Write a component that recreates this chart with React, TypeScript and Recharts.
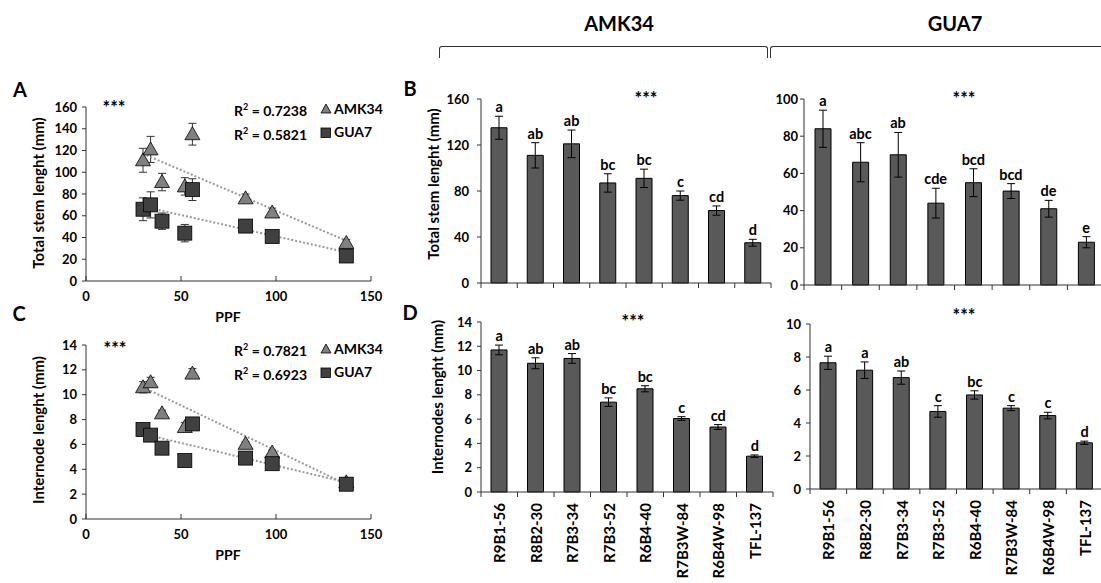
import React from "react";
import {
  ScatterChart,
  Scatter,
  ComposedChart,
  Bar,
  XAxis,
  YAxis,
  ErrorBar,
  ReferenceLine,
} from "recharts";

// genotypes and their PPF value
const genotypes = ["R9B1-56", "R8B2-30", "R7B3-34", "R7B3-52", "R6B4-40", "R7B3W-84", "R6B4W-98", "TFL-137"];
const ppf = [56, 30, 34, 52, 40, 84, 98, 137];

// total stem length (mm)
const stemAMK = [135, 111, 121, 87, 91, 76, 63, 35];
const stemAMKErr = [10, 11, 12, 8, 8, 4, 4, 3];
const stemAMKLetters = ["a", "ab", "ab", "bc", "bc", "c", "cd", "d"];
const stemGUA = [84, 66, 70, 44, 55, 50.5, 41, 23];
const stemGUAErr = [10, 10.5, 12, 8, 7.5, 4, 4.5, 3];
const stemGUALetters = ["a", "abc", "ab", "cde", "bcd", "bcd", "de", "e"];

// internode length (mm)
const interAMK = [11.7, 10.6, 11.0, 7.4, 8.5, 6.05, 5.35, 2.95];
const interAMKErr = [0.4, 0.45, 0.4, 0.35, 0.25, 0.15, 0.2, 0.1];
const interAMKLetters = ["a", "ab", "ab", "bc", "bc", "c", "cd", "d"];
const interGUA = [7.65, 7.2, 6.75, 4.7, 5.7, 4.9, 4.45, 2.8];
const interGUAErr = [0.4, 0.5, 0.4, 0.35, 0.25, 0.15, 0.2, 0.1];
const interGUALetters = ["a", "a", "ab", "c", "bc", "c", "c", "d"];

// trend line end points
const trendStemAMK = [{ x: 30, y: 117 }, { x: 137, y: 37 }];
const trendStemGUA = [{ x: 30, y: 68.5 }, { x: 137, y: 26.5 }];
const trendInterAMK = [{ x: 30, y: 10.6 }, { x: 137, y: 2.8 }];
const trendInterGUA = [{ x: 30, y: 6.85 }, { x: 137, y: 2.95 }];

const r2Stem = ["0.7238", "0.5821"];
const r2Inter = ["0.7821", "0.6923"];

const ppfTicks = [0, 50, 100, 150];
const stemScatterTicks = [0, 20, 40, 60, 80, 100, 120, 140, 160];
const interTicks14 = [0, 2, 4, 6, 8, 10, 12, 14];
const stemBarTicksAMK = [0, 40, 80, 120, 160];
const stemBarTicksGUA = [0, 20, 40, 60, 80, 100];
const interTicks10 = [0, 2, 4, 6, 8, 10];

const FONT = "Lato, 'Open Sans', sans-serif";
const tickStyle = { fontSize: 13, fontWeight: 700, fill: "#000", fontFamily: FONT };
const AXIS = "#333";

const TriangleShape = (p: any) => {
  const { cx, cy } = p;
  if (cx == null || cy == null) return null;
  return (
    <path
      d={`M${cx},${cy - 7.5} L${cx + 7.5},${cy + 5.5} L${cx - 7.5},${cy + 5.5} Z`}
      fill="#808080"
      stroke="#000"
      strokeWidth={0.8}
    />
  );
};

const SquareShape = (p: any) => {
  const { cx, cy } = p;
  if (cx == null || cy == null) return null;
  return <rect x={cx - 7} y={cy - 7} width={14} height={14} fill="#404040" stroke="#000" strokeWidth={0.8} />;
};

// small text placed by its centre
const Txt = ({ x, y, size = 13, children, rotate = false, weight = 700 }: any) => (
  <div
    style={{
      position: "absolute",
      left: x,
      top: y,
      transform: `translate(-50%, -50%)${rotate ? " rotate(-90deg)" : ""}`,
      fontSize: size,
      fontWeight: weight,
      whiteSpace: "nowrap",
      lineHeight: 1,
      color: "#000",
    }}
  >
    {children}
  </div>
);

function ScatterLegend({ x, y, r2 }: { x: number; y: number; r2: string[] }) {
  return (
    <div style={{ position: "absolute", left: x, top: y, fontSize: 14, fontWeight: 700, lineHeight: "20px" }}>
      <div style={{ display: "flex", alignItems: "center" }}>
        <span style={{ width: 86 }}>
          R<sup style={{ fontSize: 9 }}>2</sup> = {r2[0]}
        </span>
        <svg width={12} height={11} style={{ marginRight: 2 }}>
          <path d="M6,1 L11,10 L1,10 Z" fill="#808080" stroke="#000" strokeWidth={0.8} />
        </svg>
        <span>AMK34</span>
      </div>
      <div style={{ display: "flex", alignItems: "center" }}>
        <span style={{ width: 86 }}>
          R<sup style={{ fontSize: 9 }}>2</sup> = {r2[1]}
        </span>
        <svg width={12} height={11} style={{ marginRight: 2 }}>
          <rect x={1} y={1} width={9.5} height={9.5} fill="#404040" stroke="#000" strokeWidth={0.8} />
        </svg>
        <span>GUA7</span>
      </div>
    </div>
  );
}

function ScatterPanel({ top, marginTop, height, amk, amkErr, gua, guaErr, yMax, yTicks, trendA, trendG }: any) {
  const amkData = ppf.map((x, i) => ({ x, y: amk[i], err: amkErr[i] }));
  const guaData = ppf.map((x, i) => ({ x, y: gua[i], err: guaErr[i] }));
  return (
    <div style={{ position: "absolute", left: 0, top }}>
      <ScatterChart width={392} height={height} margin={{ top: marginTop, right: 21, bottom: 0, left: 0 }}>
        <XAxis
          type="number"
          dataKey="x"
          domain={[0, 150]}
          ticks={ppfTicks}
          height={32}
          tick={tickStyle}
          tickSize={-5}
          tickMargin={16}
          stroke={AXIS}
          interval={0}
        />
        <YAxis
          type="number"
          dataKey="y"
          domain={[0, yMax]}
          ticks={yTicks}
          width={86}
          tick={tickStyle}
          tickSize={4}
          tickMargin={5}
          stroke={AXIS}
          interval={0}
        />
        <Scatter data={amkData} shape={TriangleShape} isAnimationActive={false}>
          <ErrorBar dataKey="err" direction="y" width={4} stroke="#333" strokeWidth={1} />
        </Scatter>
        <Scatter data={guaData} shape={SquareShape} isAnimationActive={false}>
          <ErrorBar dataKey="err" direction="y" width={4} stroke="#333" strokeWidth={1} />
        </Scatter>
        <ReferenceLine segment={trendA} stroke="#9a9a9a" strokeWidth={2} strokeDasharray="2 2" ifOverflow="visible" />
        <ReferenceLine segment={trendG} stroke="#9a9a9a" strokeWidth={2} strokeDasharray="2 2" ifOverflow="visible" />
      </ScatterChart>
    </div>
  );
}

// category tick: Excel style marks between categories, optional rotated label
const CatTick = (props: any) => {
  const { x, y, payload, index, band, showLabel } = props;
  return (
    <g>
      <line x1={x - band / 2} x2={x - band / 2} y1={y} y2={y + 5} stroke={AXIS} />
      {index === genotypes.length - 1 && <line x1={x + band / 2} x2={x + band / 2} y1={y} y2={y + 5} stroke={AXIS} />}
      {showLabel && (
        <text
          x={x}
          y={y + 11}
          transform={`rotate(-90 ${x} ${y + 11})`}
          textAnchor="end"
          dominantBaseline="central"
          fontSize={15}
          fontWeight={700}
          fontFamily={FONT}
          fill="#000"
        >
          {payload.value}
        </text>
      )}
    </g>
  );
};

const LetterShape = (p: any) => {
  const { cx, cy, payload } = p;
  if (cx == null || cy == null) return null;
  return (
    <text x={cx} y={cy - 4} textAnchor="middle" fontSize={14.5} fontWeight={700} fontFamily={FONT} fill="#000">
      {payload.letter}
    </text>
  );
};

function BarPanel({ left, top, width, height, marginTop, marginRight, yWidth, xHeight, vals, errs, letters, yMax, yTicks, showLabels, tickMargin }: any) {
  const data = genotypes.map((name, i) => ({ name, v: vals[i], err: errs[i], letter: letters[i], top: vals[i] + errs[i] }));
  const band = (width - yWidth - marginRight) / genotypes.length;
  return (
    <div style={{ position: "absolute", left, top }}>
      <ComposedChart width={width} height={height} data={data} margin={{ top: marginTop, right: marginRight, bottom: 0, left: 0 }}>
        <XAxis
          dataKey="name"
          type="category"
          height={xHeight}
          interval={0}
          tickSize={0}
          tickMargin={0}
          stroke={AXIS}
          tick={<CatTick band={band} showLabel={showLabels} />}
        />
        <YAxis
          type="number"
          domain={[0, yMax]}
          ticks={yTicks}
          width={yWidth}
          tick={tickStyle}
          tickSize={4}
          tickMargin={tickMargin}
          stroke={AXIS}
          interval={0}
        />
        <Bar dataKey="v" fill="#595959" stroke="#000" strokeWidth={1} barSize={16} isAnimationActive={false}>
          <ErrorBar dataKey="err" direction="y" width={4} stroke="#000" strokeWidth={1} />
        </Bar>
        <Scatter dataKey="top" shape={LetterShape} isAnimationActive={false} />
      </ComposedChart>
    </div>
  );
}

export default function App() {
  return (
    <div
      style={{
        position: "absolute",
        left: 0,
        top: 0,
        width: 1101,
        height: 583,
        overflow: "hidden",
        background: "#fff",
        fontFamily: FONT,
      }}
    >
      {/* headers with brackets */}
      <Txt x={619} y={23} size={20}>AMK34</Txt>
      <Txt x={955} y={23} size={20}>GUA7</Txt>
      <div style={{ position: "absolute", left: 439, top: 46, width: 327, height: 11, borderTop: "1.3px solid #333", borderLeft: "1.3px solid #333", borderRight: "1.3px solid #333", borderTopLeftRadius: 3, borderTopRightRadius: 3 }} />
      <div style={{ position: "absolute", left: 770, top: 46, width: 360, height: 11, borderTop: "1.3px solid #333", borderLeft: "1.3px solid #333", borderTopLeftRadius: 3 }} />

      {/* A */}
      <ScatterPanel
        top={80}
        marginTop={27}
        height={233}
        amk={stemAMK}
        amkErr={stemAMKErr}
        gua={stemGUA}
        guaErr={stemGUAErr}
        yMax={160}
        yTicks={stemScatterTicks}
        trendA={trendStemAMK}
        trendG={trendStemGUA}
      />
      <Txt x={20} y={89} size={20}>A</Txt>
      <Txt x={114} y={107} size={18}>***</Txt>
      <Txt x={38} y={193} size={15} rotate>Total stem lenght (mm)</Txt>
      <Txt x={228} y={317} size={14}>PPF</Txt>
      <ScatterLegend x={234} y={97} r2={r2Stem} />

      {/* C */}
      <ScatterPanel
        top={320}
        marginTop={25}
        height={231}
        amk={interAMK}
        amkErr={interAMKErr}
        gua={interGUA}
        guaErr={interGUAErr}
        yMax={14}
        yTicks={interTicks14}
        trendA={trendInterAMK}
        trendG={trendInterGUA}
      />
      <Txt x={19} y={313} size={20}>C</Txt>
      <Txt x={115} y={348} size={18}>***</Txt>
      <Txt x={38} y={430} size={15} rotate>Internode lenght (mm)</Txt>
      <Txt x={228} y={555} size={14}>PPF</Txt>
      <ScatterLegend x={234} y={337} r2={r2Inter} />

      {/* B */}
      <BarPanel
        left={380}
        top={80}
        width={400}
        height={220}
        marginTop={19}
        marginRight={9}
        yWidth={101}
        xHeight={17}
        vals={stemAMK}
        errs={stemAMKErr}
        letters={stemAMKLetters}
        yMax={160}
        yTicks={stemBarTicksAMK}
        showLabels={false}
        tickMargin={8}
      />
      <BarPanel
        left={750}
        top={80}
        width={355}
        height={222}
        marginTop={19}
        marginRight={0}
        yWidth={54}
        xHeight={17}
        vals={stemGUA}
        errs={stemGUAErr}
        letters={stemGUALetters}
        yMax={100}
        yTicks={stemBarTicksGUA}
        showLabels={false}
        tickMargin={2}
      />
      <Txt x={410} y={88} size={20}>B</Txt>
      <Txt x={646} y={98} size={18}>***</Txt>
      <Txt x={964} y={98} size={18}>***</Txt>
      <Txt x={433} y={184} size={15} rotate>Total stem lenght (mm)</Txt>

      {/* D */}
      <BarPanel
        left={380}
        top={300}
        width={400}
        height={283}
        marginTop={22}
        marginRight={7}
        yWidth={101}
        xHeight={91}
        vals={interAMK}
        errs={interAMKErr}
        letters={interAMKLetters}
        yMax={14}
        yTicks={interTicks14}
        showLabels
        tickMargin={5}
      />
      <BarPanel
        left={750}
        top={300}
        width={353}
        height={283}
        marginTop={24}
        marginRight={0}
        yWidth={60}
        xHeight={94}
        vals={interGUA}
        errs={interGUAErr}
        letters={interGUALetters}
        yMax={10}
        yTicks={interTicks10}
        showLabels
        tickMargin={5}
      />
      <Txt x={410} y={312} size={20}>D</Txt>
      <Txt x={633} y={321} size={18}>***</Txt>
      <Txt x={964} y={315} size={18}>***</Txt>
      <Txt x={437} y={397} size={15} rotate>Internodes lenght (mm)</Txt>
    </div>
  );
}
